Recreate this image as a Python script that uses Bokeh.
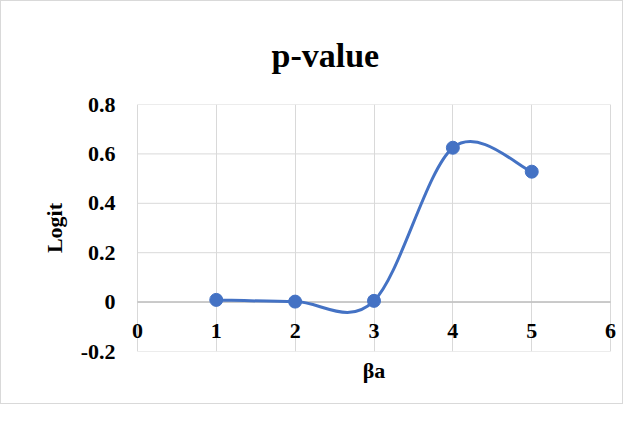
from bokeh.plotting import figure
from bokeh.models import Range1d, FixedTicker, LabelSet, ColumnDataSource, Title
from bokeh.embed import file_html
from bokeh.resources import INLINE

# data
beta_a = [1, 2, 3, 4, 5]
logit = [0.009, 0.002, 0.005, 0.625, 0.528]
x_ticks = [0, 1, 2, 3, 4, 5, 6]
x_tick_labels = ["0", "1", "2", "3", "4", "5", "6"]
y_ticks = [-0.2, 0, 0.2, 0.4, 0.6, 0.8]
y_tick_labels = ["-0.2", "0", "0.2", "0.4", "0.6", "0.8"]

FONT = "Liberation Serif"
BLUE = "#4472C4"
GRID = "#d9d9d9"
XMIN, XMAX = x_ticks[0], x_ticks[-1]
PAD = 0.1

p = figure(width=623, height=404, output_backend="svg", toolbar_location=None,
           x_range=Range1d(XMIN - PAD, XMAX + PAD), y_range=Range1d(y_ticks[0], y_ticks[-1]),
           min_border_left=128, min_border_right=6, min_border_top=103, min_border_bottom=54)
p.styles = {"border": "1px solid #d9d9d9"}
p.outline_line_color = None

p.title = Title(text="p-value", align="left", text_font=FONT, text_font_size="34px",
                text_font_style="bold", text_color="black", standoff=61, offset=142,
                text_line_height=1.0)

# y axis
p.yaxis.ticker = FixedTicker(ticks=y_ticks)
p.yaxis.major_label_overrides = {t: l for t, l in zip(y_ticks, y_tick_labels)}
p.yaxis.major_label_text_font = FONT
p.yaxis.major_label_text_font_size = "22px"
p.yaxis.major_label_text_font_style = "bold"
p.yaxis.major_label_text_color = "black"
p.yaxis.major_label_standoff = 14
p.yaxis.major_tick_out = 0
p.yaxis.major_tick_in = 0
p.yaxis.minor_tick_out = 0
p.yaxis.minor_tick_in = 0
p.yaxis.axis_line_color = None
p.yaxis.axis_label = "Logit"
p.yaxis.axis_label_text_font = FONT
p.yaxis.axis_label_text_font_size = "22px"
p.yaxis.axis_label_text_font_style = "bold"
p.yaxis.axis_label_text_color = "black"
p.yaxis.axis_label_standoff = 11

# x axis (only its title; tick labels sit on the zero line)
p.xaxis.ticker = FixedTicker(ticks=[])
p.xaxis.major_tick_out = 0
p.xaxis.major_tick_in = 0
p.xaxis.minor_tick_out = 0
p.xaxis.minor_tick_in = 0
p.xaxis.major_label_standoff = 0
p.xaxis.axis_line_color = None
p.xaxis.axis_label = "βa"
p.xaxis.axis_label_text_font = FONT
p.xaxis.axis_label_text_font_size = "22px"
p.xaxis.axis_label_text_font_style = "bold"
p.xaxis.axis_label_text_color = "black"
p.xaxis.axis_label_standoff = 6

# grid
p.xgrid.ticker = FixedTicker(ticks=x_ticks)
p.xgrid.grid_line_color = GRID
p.ygrid.grid_line_color = None
p.segment(x0=[XMIN] * len(y_ticks), y0=y_ticks, x1=[XMAX] * len(y_ticks), y1=y_ticks,
          line_color=GRID, line_width=1)
p.segment(x0=[XMIN], y0=[0], x1=[XMAX], y1=[0], line_color="#bfbfbf", line_width=1.5)

# x tick labels along the zero line
lab_src = ColumnDataSource(dict(x=x_ticks, y=[0] * len(x_ticks), t=x_tick_labels))
p.add_layout(LabelSet(x="x", y="y", text="t", source=lab_src, text_align="center",
                      text_baseline="alphabetic", y_offset=-36, text_font=FONT,
                      text_font_size="22px", text_font_style="bold", text_color="black"))

# smoothed line (Catmull-Rom style Bezier through the points)
n = len(beta_a)
def pt(i):
    i = min(max(i, 0), n - 1)
    return beta_a[i], logit[i]
bx0, by0, bx1, by1, cx0, cy0, cx1, cy1 = ([] for _ in range(8))
for i in range(n - 1):
    xa, ya = pt(i); xb, yb = pt(i + 1); xp, yp = pt(i - 1); xn, yn = pt(i + 2)
    bx0.append(xa); by0.append(ya); bx1.append(xb); by1.append(yb)
    cx0.append(xa + (xb - xp) / 6); cy0.append(ya + (yb - yp) / 6)
    cx1.append(xb - (xn - xa) / 6); cy1.append(yb - (yn - ya) / 6)
p.bezier(x0=bx0, y0=by0, x1=bx1, y1=by1, cx0=cx0, cy0=cy0, cx1=cx1, cy1=cy1,
         line_color=BLUE, line_width=3, line_cap="round")
p.scatter(beta_a, logit, size=13, color=BLUE)

open("out.html", "w").write(file_html(p, INLINE))
